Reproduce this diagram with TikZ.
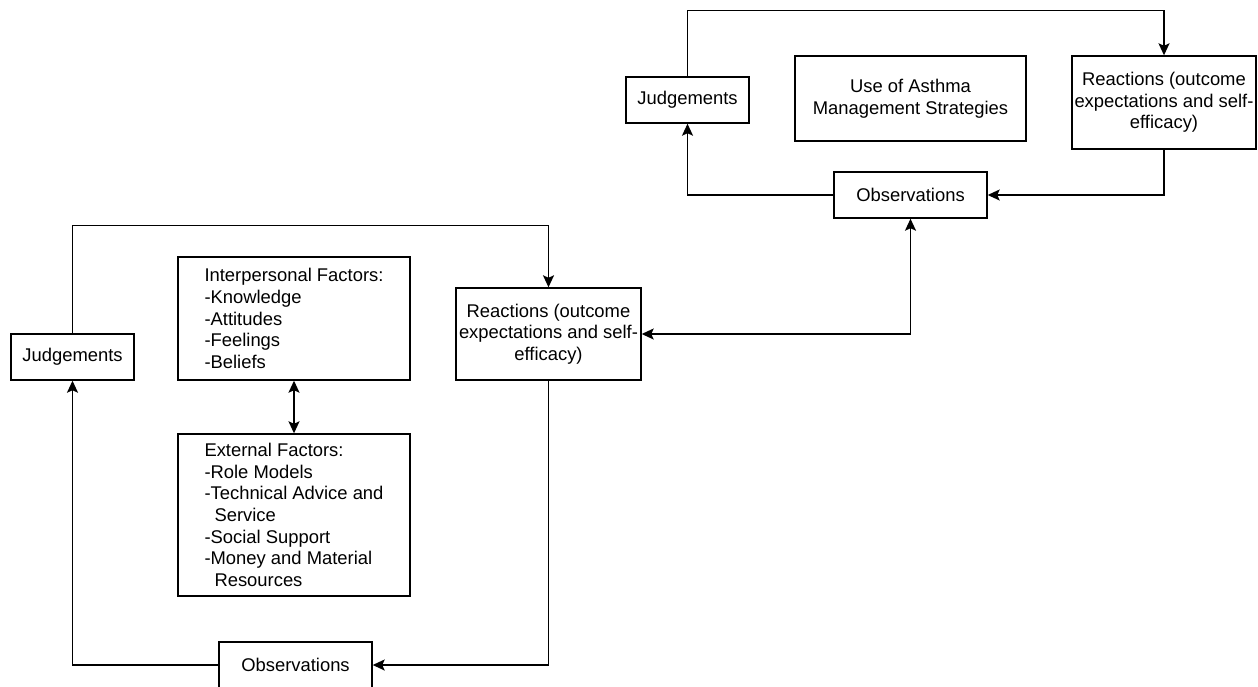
\documentclass[tikz,border=0pt]{standalone}
\usepackage{fontspec}
\setmainfont{Liberation Sans}
\usetikzlibrary{arrows.meta}
\begin{document}
\begin{tikzpicture}[x=1pt,y=-1pt,
  >={Stealth[length=12pt,width=11pt,inset=2.5pt]},
  box/.style={draw, line width=1.4pt, inner sep=0pt, font=\fontsize{18.4}{21.6}\selectfont, align=center},
  lbox/.style={box, align=left},
  conn/.style={line width=1.6pt, ->},
  biconn/.style={line width=1.6pt, <->}]
\clip (0,0) rectangle (1258,686);
\fill[white] (0,0) rectangle (1258,686);
% upper cycle
\node[box, minimum width=123pt, minimum height=46pt] (j2) at (687.5,100) {Judgements};
\node[box, minimum width=231pt, minimum height=85pt] (use) at (910.5,98.5) {Use of Asthma\\Management Strategies};
\node[box, minimum width=184pt, minimum height=93pt] (r2) at (1164,102.5) {Reactions (outcome\\expectations and self-\\efficacy)};
\node[box, minimum width=153pt, minimum height=46pt] (o2) at (910.5,195) {Observations};
% lower cycle
\node[box, minimum width=123pt, minimum height=46pt] (j1) at (72.5,357) {Judgements};
\node[lbox, minimum width=232pt, minimum height=123pt] (ip) at (294,318.5) {Interpersonal Factors:\\-Knowledge\\-Attitudes\\-Feelings\\-Beliefs};
\node[box, minimum width=185pt, minimum height=92pt] (r1) at (548.5,334) {Reactions (outcome\\expectations and self-\\efficacy)};
\node[lbox, minimum width=232pt, minimum height=162pt] (ex) at (294,515) {External Factors:\\-Role Models\\-Technical Advice and\\\hspace*{10pt}Service\\-Social Support\\-Money and Material\\\hspace*{10pt}Resources};
\node[box, minimum width=153pt, minimum height=46pt] (o1) at (295.5,665) {Observations};
% upper connectors
\draw[conn] (j2.north) -- ++(0,-66) -| (r2.north);
\draw[conn] (o2.west) -| (j2.south);
\draw[conn] (r2.south) |- (o2.east);
\draw[biconn] (o2.south) |- (r1.east);
% lower connectors
\draw[conn] (j1.north) -- ++(0,-108) -| (r1.north);
\draw[conn] (r1.south) |- (o1.east);
\draw[conn] (o1.west) -| (j1.south);
\draw[biconn] (ip.south) -- (ex.north);
\end{tikzpicture}
\end{document}
